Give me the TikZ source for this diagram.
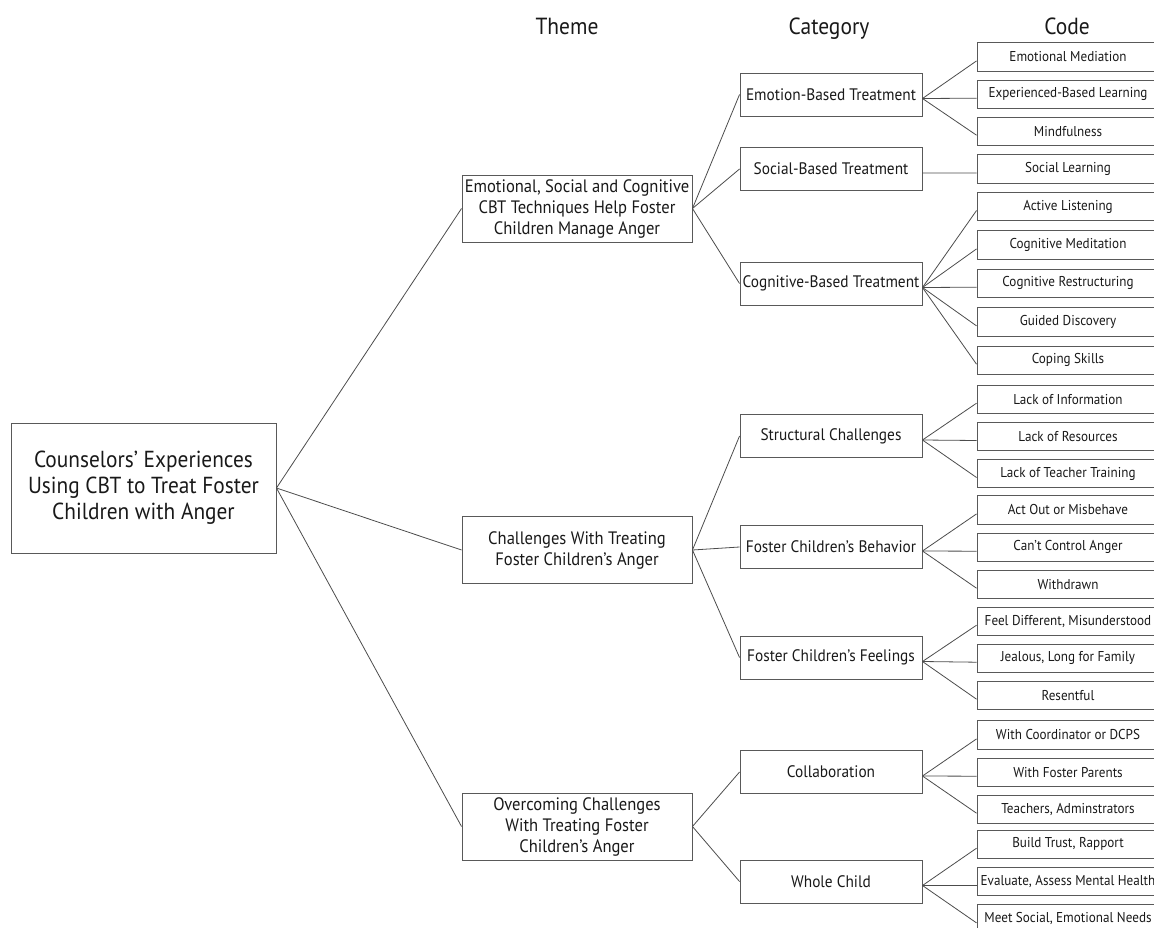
\documentclass[tikz,border=0pt]{standalone}
\usepackage{fontspec}
\setmainfont{PT Sans}[FakeStretch=0.92]
\begin{document}
\begin{tikzpicture}[x=0.75pt,y=-0.75pt,
 box/.style={draw=black!65,line width=0.7pt,inner sep=0pt,align=center,text=black!90},
 rootbox/.style={box,minimum width=198.75pt,minimum height=97.5pt,font=\fontsize{17.4}{19.5}\selectfont},
 themebox/.style={box,minimum width=172.5pt,minimum height=50.25pt,font=\fontsize{13.5}{15.75}\selectfont},
 catbox/.style={box,minimum width=136.5pt,minimum height=32.25pt,font=\fontsize{12.5}{15}\selectfont},
 codebox/.style={box,minimum width=136.5pt,minimum height=21.3pt,font=\fontsize{10.7}{12}\selectfont},
 head/.style={anchor=base,inner sep=0pt,text=black!90,font=\fontsize{17.5}{20}\selectfont},
 link/.style={draw=black!70,line width=0.6pt}]
\useasboundingbox (0,0) rectangle (1154,928);
% headers
\node[head] (hT) at (567,34) {Theme};
\node[head] (hC) at (829,34) {Category};
\node[head] (hK) at (1067,34) {Code};
% root
\node[rootbox] (root) at (143.5,488) {Counselors’ Experiences\\Using CBT to Treat Foster\\Children with Anger};
% themes
\node[themebox] (t1) at (577,208.5) {Emotional, Social and Cognitive\\CBT Techniques Help Foster\\Children Manage Anger};
\node[themebox] (t2) at (577,550) {Challenges With Treating\\Foster Children’s Anger};
\node[themebox] (t3) at (577,826.5) {Overcoming Challenges\\With Treating Foster\\Children’s Anger};
% categories
\node[catbox] (c1) at (831,94.5) {Emotion-Based Treatment};
\node[catbox] (c2) at (831,169) {Social-Based Treatment};
\node[catbox] (c3) at (831,283.5) {Cognitive-Based Treatment};
\node[catbox] (c4) at (831,436) {Structural Challenges};
\node[catbox] (c5) at (831,547) {Foster Children’s Behavior};
\node[catbox] (c6) at (831,657.5) {Foster Children’s Feelings};
\node[catbox] (c7) at (831,772) {Collaboration};
\node[catbox] (c8) at (831,881.5) {Whole Child};
% codes
\node[codebox] (k1) at (1068,56.9) {Emotional Mediation};
\node[codebox] (k2) at (1068,94.2) {Experienced-Based Learning};
\node[codebox] (k3) at (1068,131.2) {Mindfulness};
\node[codebox] (k4) at (1068,168.9) {Social Learning};
\node[codebox] (k5) at (1068,206.5) {Active Listening};
\node[codebox] (k6) at (1068,244.9) {Cognitive Meditation};
\node[codebox] (k7) at (1068,283.2) {Cognitive Restructuring};
\node[codebox] (k8) at (1068,321.9) {Guided Discovery};
\node[codebox] (k9) at (1068,360.2) {Coping Skills};
\node[codebox] (k10) at (1068,399.2) {Lack of Information};
\node[codebox] (k11) at (1068,436.5) {Lack of Resources};
\node[codebox] (k12) at (1068,473.5) {Lack of Teacher Training};
\node[codebox] (k13) at (1068,509.9) {Act Out or Misbehave};
\node[codebox] (k14) at (1068,547.2) {Can’t Control Anger};
\node[codebox] (k15) at (1068,584.2) {Withdrawn};
\node[codebox] (k16) at (1068,621.2) {Feel Different, Misunderstood};
\node[codebox] (k17) at (1068,658.2) {Jealous, Long for Family};
\node[codebox] (k18) at (1068,695.2) {Resentful};
\node[codebox] (k19) at (1068,734.9) {With Coordinator or DCPS};
\node[codebox] (k20) at (1068,772.2) {With Foster Parents};
\node[codebox] (k21) at (1068,809.2) {Teachers, Adminstrators};
\node[codebox] (k22) at (1068,844.2) {Build Trust, Rapport};
\node[codebox] (k23) at (1068,881.5) {Evaluate, Assess Mental Health};
\node[codebox] (k24) at (1068,918.9) {Meet Social, Emotional Needs};
% root to themes
\foreach \t in {t1,t2,t3} \draw[link] (root.east) -- (\t.west);
% themes to categories
\foreach \c in {c1,c2,c3} \draw[link] (t1.east) -- (\c.west);
\foreach \c in {c4,c5,c6} \draw[link] (t2.east) -- (\c.west);
\foreach \c in {c7,c8} \draw[link] (t3.east) -- (\c.west);
% categories to codes
\foreach \c/\k in {c1/k1,c1/k2,c1/k3,c2/k4,c3/k5,c3/k6,c3/k7,c3/k8,c3/k9,
  c4/k10,c4/k11,c4/k12,c5/k13,c5/k14,c5/k15,c6/k16,c6/k17,c6/k18,
  c7/k19,c7/k20,c7/k21,c8/k22,c8/k23,c8/k24}
  \draw[link] ([yshift=-3pt]\c.east) -- ([yshift=-3pt]\k.west);
\end{tikzpicture}
\end{document}
